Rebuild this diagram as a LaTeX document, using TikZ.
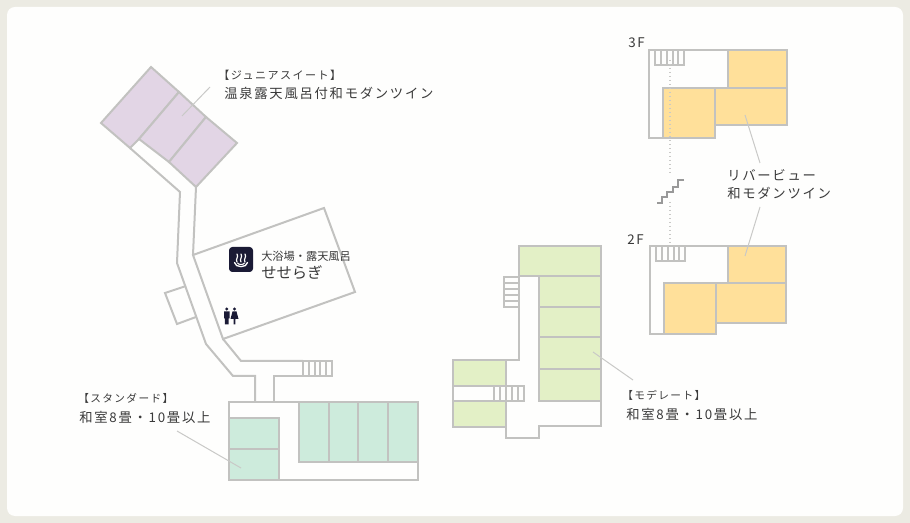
\documentclass[tikz,border=0pt]{standalone}
\usepackage{fontspec}
\setmainfont{Noto Sans CJK JP}
\newfontfamily\labelfont[LetterSpace=13]{Noto Sans CJK JP}
\definecolor{wallgray}{HTML}{C2C2C0}
\definecolor{leadgray}{HTML}{C9C9C7}
\definecolor{suitefill}{HTML}{E2D5E5}
\definecolor{standardfill}{HTML}{CDEBDC}
\definecolor{moderatefill}{HTML}{E3F0C6}
\definecolor{riverfill}{HTML}{FFE09A}
\definecolor{iconnavy}{HTML}{1A1A35}
\definecolor{framecolor}{HTML}{ECEBE3}
\definecolor{panelcolor}{HTML}{FEFEFD}
\definecolor{inkgray}{HTML}{3A3A3A}
\tikzset{
  wall/.style={draw=wallgray,line width=1.5pt,line join=miter},
  tread/.style={draw=wallgray,line width=1pt},
  lead/.style={draw=leadgray,line width=0.75pt},
  floorlink/.style={draw=leadgray,line width=1pt,dotted},
  label/.style={inner sep=0pt,anchor=west,text=inkgray,font=\labelfont\fontsize{10pt}{12pt}\selectfont},
  smalllabel/.style={label,font=\labelfont\fontsize{8pt}{10pt}\selectfont},
}
\begin{document}
\begin{tikzpicture}[x=0.75pt,y=-0.75pt]
\useasboundingbox (0,0) rectangle (910,523);
\path[fill=framecolor] (0,0) rectangle (910,523);
\path[fill=panelcolor,rounded corners=6pt] (7,7) rectangle (903,516);

\path[wall] (130,148) -- (180,192) -- (177,263) -- (206,344) -- (233,376) -- (255,376) -- (255,402);
\path[wall] (196,187) -- (193,255);
\path[wall] (186,286) -- (165,293) -- (177,324) -- (196,317);
\path[wall] (193,255) -- (324,208) -- (355,292) -- (223,339) -- cycle;
\path[wall] (223,339) -- (241,361) -- (303,361);
\path[wall] (274,402) -- (274,376) -- (303,376);
\path[wall] (303,361) rectangle (332,376);
\foreach \x in {309,315,320,326} \path[tread] (\x,361) -- (\x,376);

\path[wall,fill=suitefill] (151,67) -- (179,92) -- (139,139) -- (130,148) -- (101,123) -- cycle;
\path[wall,fill=suitefill] (179,92) -- (206,117) -- (169,162) -- (139,139) -- cycle;
\path[wall,fill=suitefill] (206,117) -- (237,143) -- (196,187) -- (169,162) -- cycle;
\path[lead] (210,87) -- (182,116);

\node[label,font=\labelfont\fontsize{8.3pt}{10pt}\selectfont] (suitehead) at (218,75) {【ジュニアスイート】};
\node[label] (suitename) at (224,93) {温泉露天風呂付和モダンツイン};

\path[fill=iconnavy,rounded corners=2.5pt] (229,247) rectangle (253,272);
\path[draw=white,line width=1pt,line cap=round] (234.5,262.5) .. controls (235,268) and (247,268) .. (247.5,262.5);
\path[draw=white,line width=0.8pt,line cap=round] (237.5,263) .. controls (238,265) and (244,265) .. (244.5,263);
\foreach \x in {237,241,245}
  \path[draw=white,line width=0.9pt,line cap=round] (\x,262) .. controls (\x-2,259.5) and (\x+2,257) .. (\x,254);
\node[inner sep=0pt,anchor=west,text=inkgray,font=\fontsize{8.4pt}{10pt}\selectfont] (bathhead) at (261,256) {大浴場・露天風呂};
\node[inner sep=0pt,anchor=west,text=inkgray,font=\fontsize{11.5pt}{13pt}\selectfont] (bathname) at (261,273) {せせらぎ};

\path[fill=iconnavy] (226.7,309) circle (1.6) (234.5,309) circle (1.6);
\path[fill=iconnavy] (224,311.5) rectangle (229.5,318.5) (224.8,318) rectangle (228.7,324.5);
\path[fill=iconnavy] (232.5,311.5) -- (236.5,311.5) -- (238.5,319) -- (235.5,319) -- (235.3,324.5) -- (233.7,324.5) -- (233.5,319) -- (230.5,319) -- cycle;

\path[wall] (229,402) rectangle (418,480);
\path[wall,fill=standardfill] (229,418) rectangle (279,449);
\path[wall,fill=standardfill] (229,449) rectangle (279,480);
\foreach \x/\y in {299/329,329/358,358/388,388/418}
  \path[wall,fill=standardfill] (\x,402) rectangle (\y,462);
\path[lead] (177,431) -- (241,468);
\node[smalllabel] (standardhead) at (78,398) {【スタンダード】};
\node[label] (standardname) at (79,417) {和室8畳・10畳以上};

\path[wall] (519,276) -- (519,360) -- (506,360) -- (506,438) -- (539,438) -- (539,426) -- (601,426) -- (601,401);
\path[wall] (453,386) -- (524,386) -- (524,401) -- (453,401) -- cycle;
\foreach \x in {494,500,506,512,518} \path[tread] (\x,386) -- (\x,401);
\path[wall] (504,277) rectangle (519,307);
\foreach \y in {283,289,295,301} \path[tread] (504,\y) -- (519,\y);
\path[wall,fill=moderatefill] (519,246) rectangle (601,276);
\path[wall,fill=moderatefill] (539,276) rectangle (601,307);
\path[wall,fill=moderatefill] (539,307) rectangle (601,337);
\path[wall,fill=moderatefill] (539,337) rectangle (601,369);
\path[wall,fill=moderatefill] (539,369) rectangle (601,401);
\path[wall,fill=moderatefill] (453,360) rectangle (506,386);
\path[wall,fill=moderatefill] (453,401) rectangle (506,427);
\path[lead] (593,352) -- (633,380);
\node[smalllabel] (moderatehead) at (622,395) {【モデレート】};
\node[label] (moderatename) at (626,414) {和室8畳・10畳以上};

\path[wall] (663,138) -- (649,138) -- (649,50) -- (728,50);
\path[wall] (663,88) -- (715,88);
\path[wall,fill=riverfill] (728,50) rectangle (787,88);
\path[wall,fill=riverfill] (715,88) rectangle (787,125);
\path[wall,fill=riverfill] (663,88) rectangle (715,138);
\path[wall] (655,50) rectangle (684,65);
\foreach \x in {661,667,673,678} \path[tread] (\x,50) -- (\x,65);
\path[lead] (745,115) -- (760,163);
\node[label] (floorthree) at (628,43) {3F};

\path[floorlink] (670,60) -- (670,173);
\path[floorlink] (670,202) -- (670,246);
\path[draw=gray!80,line width=1.5pt] (684,180) -- (678,180) -- (678,187) -- (673,187) -- (673,192) -- (667,192) -- (667,197) -- (662,197) -- (662,203) -- (657,203);

\node[label] (riverhead) at (727,175) {リバービュー};
\node[label] (rivername) at (727,193) {和モダンツイン};

\path[wall] (664,334) -- (650,334) -- (650,246) -- (728,246);
\path[wall,fill=riverfill] (728,246) rectangle (786,283);
\path[wall,fill=riverfill] (716,283) rectangle (786,323);
\path[wall,fill=riverfill] (664,283) rectangle (716,334);
\path[wall] (656,246) rectangle (685,261);
\foreach \x in {662,668,674,679} \path[tread] (\x,246) -- (\x,261);
\path[lead] (760,207) -- (745,256);
\node[label] (floortwo) at (627,240) {2F};
\end{tikzpicture}
\end{document}
